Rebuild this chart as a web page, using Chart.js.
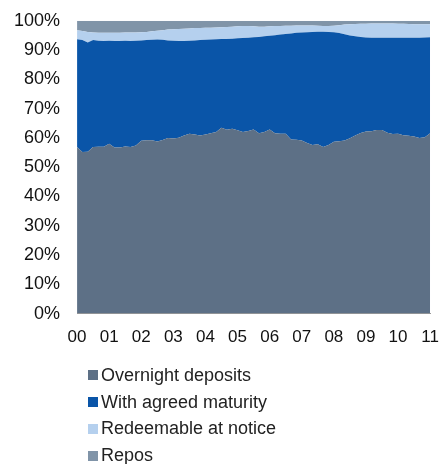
<!DOCTYPE html>
<html>
<head>
<meta charset="utf-8">
<script src="https://cdn.jsdelivr.net/npm/chart.js@4/dist/chart.umd.min.js"></script>
<style>
  html, body { margin: 0; padding: 0; background: #fff; }
  body { width: 440px; height: 464px; position: relative; overflow: hidden; font-family: "Liberation Sans", Arial, sans-serif; }
  #wrap { position: absolute; left: -16px; top: -7px; width: 469px; height: 373px; }
  #legend { position: absolute; left: 88px; top: 362px; margin: 0; padding: 0; list-style: none; }
  #legend li { display: flex; align-items: center; height: 26.8px; font-size: 18px; color: #222; white-space: nowrap; }
  #legend span.box { display: inline-block; width: 10px; height: 10px; margin-right: 3px; }
</style>
</head>
<body>
<div id="wrap"><canvas id="chart"></canvas></div>
<ul id="legend"></ul>
<script>
// bimonthly observations, Jan 2000 - Jan 2011 (shares of total, %)
const months = [
  '2000-01','2000-03','2000-05','2000-07','2000-09','2000-11',
  '2001-01','2001-03','2001-05','2001-07','2001-09','2001-11',
  '2002-01','2002-03','2002-05','2002-07','2002-09','2002-11',
  '2003-01','2003-03','2003-05','2003-07','2003-09','2003-11',
  '2004-01','2004-03','2004-05','2004-07','2004-09','2004-11',
  '2005-01','2005-03','2005-05','2005-07','2005-09','2005-11',
  '2006-01','2006-03','2006-05','2006-07','2006-09','2006-11',
  '2007-01','2007-03','2007-05','2007-07','2007-09','2007-11',
  '2008-01','2008-03','2008-05','2008-07','2008-09','2008-11',
  '2009-01','2009-03','2009-05','2009-07','2009-09','2009-11',
  '2010-01','2010-03','2010-05','2010-07','2010-09','2010-11',
  '2011-01'
];

const overnight = [
  56.9, 55.2, 55.3, 56.9, 57.0, 57.0,
  58.0, 56.7, 56.7, 57.1, 56.9, 57.4,
  59.0, 59.2, 59.2, 58.8, 59.3, 60.0,
  59.8, 60.1, 60.8, 61.4, 61.2, 60.8,
  61.2, 61.6, 62.0, 63.5, 62.8, 63.1,
  62.6, 62.0, 62.4, 62.9, 61.6, 62.0,
  62.9, 61.6, 61.4, 61.4, 59.5, 59.4,
  59.1, 58.3, 57.6, 57.8, 56.9, 57.6,
  58.7, 58.9, 59.1, 59.9, 60.8, 61.7,
  62.2, 62.3, 62.7, 62.7, 61.8, 61.3,
  61.4, 60.9, 60.7, 60.5, 60.0, 60.2,
  61.6
];

const agreedMaturity = [
  36.8, 38.2, 37.3, 36.5, 36.2, 36.1,
  35.2, 36.4, 36.4, 36.1, 36.2, 35.8,
  34.3, 34.2, 34.3, 34.8, 34.2, 33.3,
  33.4, 33.0, 32.3, 31.8, 32.1, 32.6,
  32.3, 32.0, 31.7, 30.3, 31.0, 30.8,
  31.4, 32.1, 31.8, 31.5, 32.9, 32.7,
  32.0, 33.5, 33.9, 34.1, 36.2, 36.5,
  36.9, 37.8, 38.6, 38.5, 39.4, 38.6,
  37.4, 36.9, 36.3, 35.1, 33.9, 32.8,
  32.1, 31.9, 31.5, 31.5, 32.4, 32.9,
  32.8, 33.3, 33.5, 33.7, 34.2, 34.1,
  32.8
];

const redeemable = [
  3.1, 3.1, 3.6, 2.6, 2.7, 2.8,
  2.7, 2.8, 2.8, 2.8, 2.9, 2.8,
  2.8, 2.8, 2.9, 3.0, 3.3, 3.7,
  3.9, 4.1, 4.2, 4.2, 4.2, 4.1,
  4.1, 4.0, 4.0, 4.0, 4.1, 4.1,
  4.1, 4.1, 4.0, 3.7, 3.5, 3.3,
  3.2, 3.1, 2.9, 2.8, 2.6, 2.5,
  2.4, 2.3, 2.2, 2.0, 1.9, 2.0,
  2.2, 2.7, 3.3, 3.8, 4.2, 4.5,
  4.7, 4.9, 4.9, 4.9, 4.9, 4.9,
  4.8, 4.8, 4.7, 4.6, 4.6, 4.5,
  4.4
];

const repos = [
  3.2, 3.5, 3.8, 4.0, 4.1, 4.1,
  4.1, 4.1, 4.1, 4.0, 4.0, 4.0,
  3.9, 3.8, 3.6, 3.4, 3.2, 3.0,
  2.9, 2.8, 2.7, 2.6, 2.5, 2.5,
  2.4, 2.4, 2.3, 2.2, 2.1, 2.0,
  1.9, 1.8, 1.8, 1.9, 2.0, 2.0,
  1.9, 1.8, 1.8, 1.7, 1.7, 1.6,
  1.6, 1.6, 1.6, 1.7, 1.8, 1.8,
  1.7, 1.5, 1.3, 1.2, 1.1, 1.0,
  1.0, 0.9, 0.9, 0.9, 0.9, 0.9,
  1.0, 1.0, 1.1, 1.2, 1.2, 1.2,
  1.2
];

const yTicks = [0, 10, 20, 30, 40, 50, 60, 70, 80, 90, 100];

const seriesNames = ['Overnight deposits', 'With agreed maturity', 'Redeemable at notice', 'Repos'];
const seriesColors = ['#5d7086', '#0a55a8', '#b5d0ee', '#8094a8'];
const seriesData = [overnight, agreedMaturity, redeemable, repos];

const datasets = seriesData.map(function(d, i) {
    return {
        label: seriesNames[i],
        data: d,
        backgroundColor: seriesColors[i],
        borderColor: seriesColors[i],
        borderWidth: 0,
        pointRadius: 0,
        tension: 0,
        fill: i === 0 ? 'origin' : '-1'
    };
});

// html legend, one item per line
const htmlLegend = {
    id: 'htmlLegend',
    afterUpdate(chart) {
        const ul = document.getElementById('legend');
        ul.innerHTML = '';
        chart.options.plugins.legend.labels.generateLabels(chart).forEach(function(item) {
            const li = document.createElement('li');
            const box = document.createElement('span');
            box.className = 'box';
            box.style.background = item.fillStyle;
            li.appendChild(box);
            li.appendChild(document.createTextNode(item.text));
            ul.appendChild(li);
        });
    }
};

new Chart(document.getElementById('chart'), {
    type: 'line',
    data: { labels: months, datasets: datasets },
    plugins: [htmlLegend],
    options: {
        responsive: true,
        maintainAspectRatio: false,
        animation: false,
        layout: { padding: { left: 13, right: 0, top: 4, bottom: 4 } },
        plugins: {
            legend: { display: false },
            tooltip: { enabled: false }
        },
        scales: {
            x: {
                offset: false,
                grid: { display: false, drawTicks: false },
                border: { display: true, color: '#999', width: 1 },
                ticks: {
                    autoSkip: false,
                    maxRotation: 0,
                    padding: 14,
                    color: '#111',
                    font: { family: '"Liberation Sans", Arial, sans-serif', size: 17 },
                    callback: function(val) {
                        const lab = this.getLabelForValue(val);
                        return lab.endsWith('-01') ? lab.slice(2, 4) : null;
                    }
                }
            },
            y: {
                stacked: true,
                min: 0,
                max: 100,
                afterBuildTicks: function(axis) {
                    axis.ticks = yTicks.map(function(v) { return { value: v }; });
                },
                grid: { display: false, drawTicks: false },
                border: { display: false },
                ticks: {
                    padding: 17,
                    color: '#111',
                    font: { family: '"Liberation Sans", Arial, sans-serif', size: 18 },
                    callback: function(v) { return v + '%'; }
                }
            }
        }
    }
});
</script>
</body>
</html>
